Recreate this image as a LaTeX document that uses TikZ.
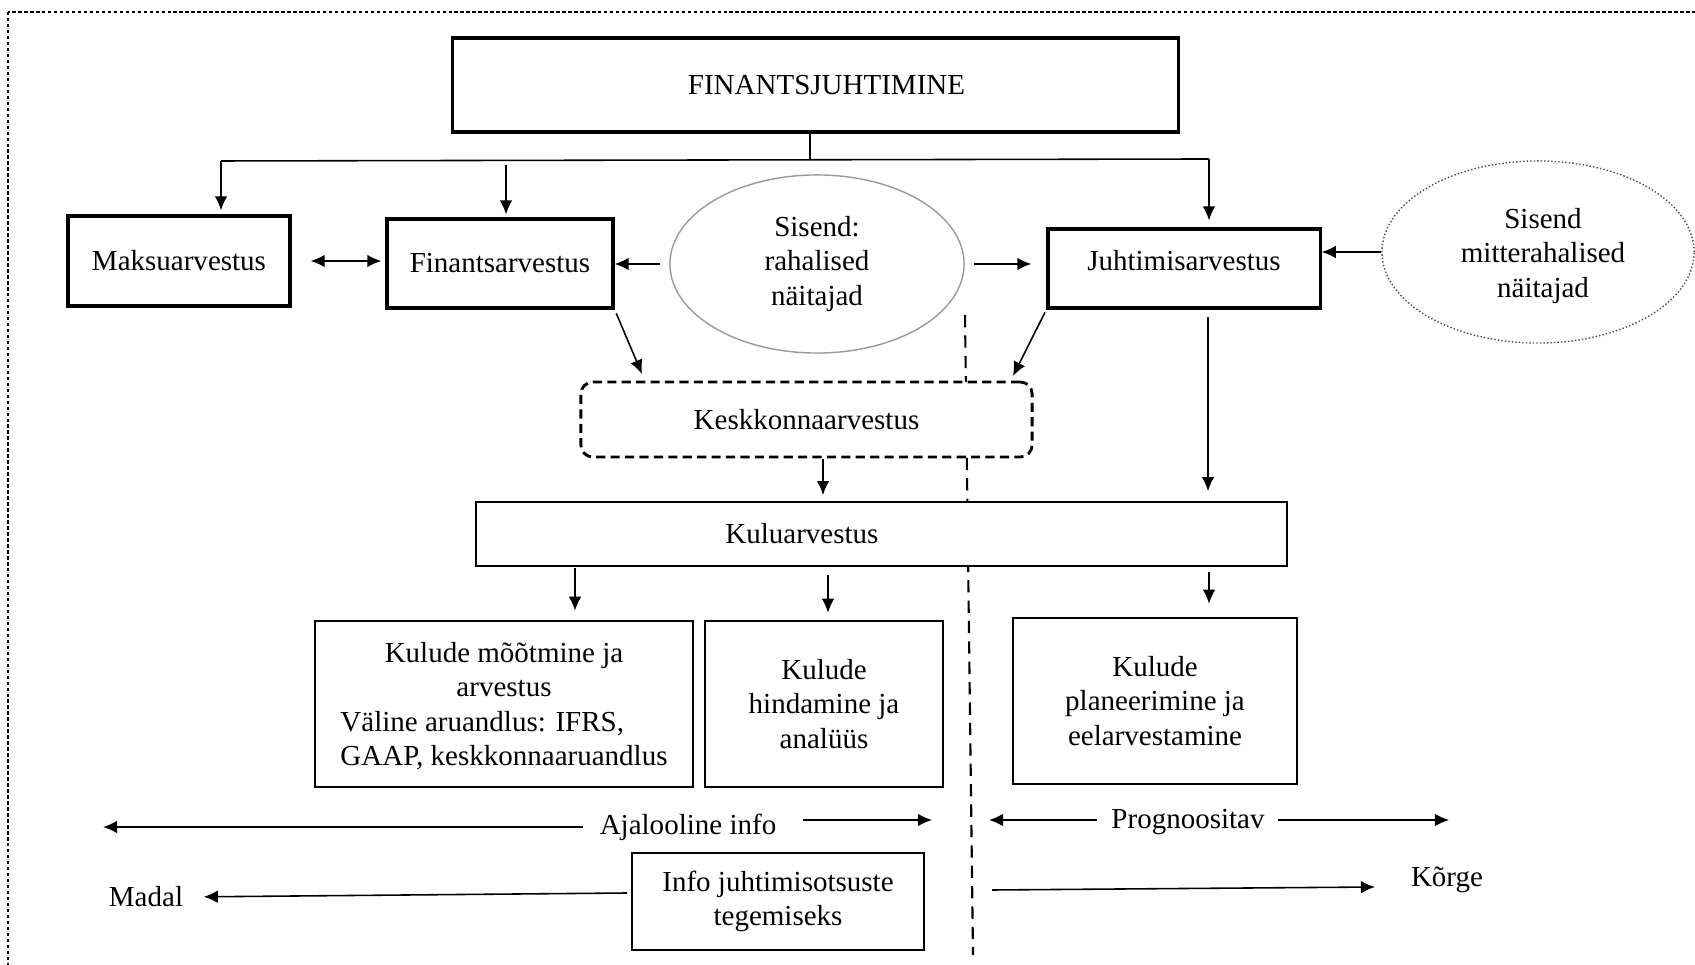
\documentclass[tikz,border=0pt]{standalone}
\usepackage{fontspec}
\setmainfont{Liberation Serif}
\usetikzlibrary{arrows.meta,shapes.geometric}

\begin{document}
\begin{tikzpicture}[x=0.01cm,y=-0.01cm,
                        font=\fontsize{8.25}{9.7}\selectfont,
                        >={Latex[length=4pt,width=3.6pt]},
                        box/.style={draw,line width=0.5pt,fill=white,inner sep=0,align=center},
                        thickbox/.style={box,line width=0.9pt},
                        input/.style={ellipse,draw=black!40,line width=0.4pt,fill=white,inner sep=0,align=center},
                        arr/.style={->,line width=0.45pt},
                        divider/.style={line width=0.6pt,dash pattern=on 3.5pt off 2.3pt},
                        caption/.style={inner sep=0}
                        ]
                        \useasboundingbox (0,0) rectangle (1695,965);
                        \clip (0,0) rectangle (1695,965);
                        % frame
                        \draw[line width=0.4pt,dash pattern=on 1pt off 0.7pt] (8,12) rectangle (1720,1000);
                        % historic / forecast divider
                        \coordinate (d0) at (965,315);
                        \coordinate (d1) at (973,955);
                        \draw[divider] (d0) -- (d1);

                        \node[thickbox,minimum width=7.25cm,minimum height=0.94cm,
                              label={[caption,xshift=0.11cm]center:FINANTSJUHTIMINE}] (fin) at (815.5,85) {};
                        \node[thickbox,minimum width=2.22cm,minimum height=0.90cm] (maks) at (179,261) {Maksuarvestus};
                        \node[thickbox,minimum width=2.26cm,minimum height=0.89cm] (finarv) at (500,263.5) {Finantsarvestus};
                        \node[input,minimum width=2.94cm,minimum height=1.78cm] (rahal) at (817,264) {Sisend:\\rahalised\\näitajad};
                        \node[thickbox,minimum width=2.72cm,minimum height=0.79cm,text depth=0.17cm] (juht) at (1184,268.5) {Juhtimisarvestus};
                        \node[input,draw=black!70,dash pattern=on 0.4pt off 0.6pt,minimum width=3.12cm,minimum height=1.82cm,
                              label={[caption,align=center,xshift=0.05cm,yshift=-0.04cm]center:Sisend\\mitterahalised\\näitajad}] (mitte) at (1538,252) {};
                        \node[box,line width=0.8pt,dash pattern=on 2.6pt off 1.5pt,rounded corners=0.12cm,minimum width=4.51cm,minimum height=0.75cm] (kesk) at (806.5,419.5) {Keskkonnaarvestus};
                        \node[box,minimum width=8.11cm,minimum height=0.64cm,
                              label={[caption,xshift=-0.795cm]center:Kuluarvestus}] (kulu) at (881.5,534) {};
                        \node[box,line width=0.7pt,minimum width=3.78cm,minimum height=1.66cm,
                              label={[caption,align=center,yshift=-0.05cm]center:Kulude mõõtmine ja\\arvestus\\\begin{tabular}[t]{@{}l@{}}Väline aruandlus: IFRS,\\GAAP, keskkonnaaruandlus\end{tabular}}] (kmoot) at (504,704) {};
                        \node[box,line width=0.7pt,minimum width=2.38cm,minimum height=1.66cm] (khind) at (824,704) {Kulude\\hindamine ja\\analüüs};
                        \node[box,line width=0.7pt,minimum width=2.84cm,minimum height=1.66cm] (kplan) at (1155,701) {Kulude\\planeerimine ja\\eelarvestamine};
                        \node[box,minimum width=2.92cm,minimum height=0.97cm] (info) at (778,901.5) {Info juhtimisotsuste\\tegemiseks};
                        \node[caption] (aja) at (688,827) {Ajalooline info};
                        \node[caption] (prog) at (1188,822) {Prognoositav};
                        \node[caption] (madal) at (146,897) {Madal};
                        \node[caption] (korge) at (1447,880) {Kõrge};

                        % tree below the top box
                        \coordinate (top) at (810,160);
                        \coordinate (tL) at (221,161);
                        \coordinate (tM) at (506,165);
                        \coordinate (tR) at (1209,159);
                        \draw[line width=0.45pt] (fin.south -| top) -- (top);
                        \draw[line width=0.45pt] (tL) -- (tR);
                        \draw[arr,shorten >=0.04cm] (tL) -- (tL |- maks.north);
                        \draw[arr,shorten >=0.03cm] (tM) -- (tM |- finarv.north);
                        \draw[arr,shorten >=0.07cm] (tR) -- (tR |- juht.north);

                        \draw[<->,line width=0.45pt,shorten <=0.19cm,shorten >=0.04cm] (maks.east) -- (maks.east -| finarv.west);
                        \draw[arr,shorten <=0.09cm] (rahal.west) -- (rahal.west -| finarv.east);
                        \draw[arr,shorten <=0.09cm,shorten >=0.15cm] (rahal.east) -- (rahal.east -| juht.west);
                        \draw[arr] (mitte.west) -- (mitte.west -| juht.east);

                        \coordinate (k1) at (642,374);
                        \coordinate (k2) at (1013,376);
                        \coordinate (j1) at (1208,317);
                        \coordinate (k3) at (823,459);
                        \draw[arr,shorten <=0.04cm] (finarv.south east) -- (k1);
                        \draw[arr,shorten <=0.03cm] (juht.south west) -- (k2);
                        \draw[arr,shorten >=0.1cm] (j1) -- (j1 |- kulu.north);
                        \draw[arr,shorten >=0.06cm] (k3) -- (k3 |- kulu.north);

                        \coordinate (c1) at (575,568);
                        \coordinate (c2) at (828,575);
                        \coordinate (c3) at (1209,572);
                        \draw[arr,shorten >=0.09cm] (c1) -- (c1 |- kmoot.north);
                        \draw[arr,shorten >=0.07cm] (c2) -- (c2 |- khind.north);
                        \draw[arr,shorten >=0.13cm] (c3) -- (c3 |- kplan.north);

                        % time and level scales
                        \coordinate (ajaL) at (103,827);
                        \coordinate (ajaR) at (932,820);
                        \coordinate (progL) at (989,820);
                        \coordinate (progR) at (1449,820);
                        \coordinate (m0) at (627,893);
                        \coordinate (h0) at (992,890);
                        \coordinate (h1) at (1375,887);
                        \draw[arr,shorten <=0.16cm] (aja.west |- ajaL) -- (ajaL);
                        \draw[arr,shorten <=0.26cm] (aja.east |- ajaR) -- (ajaR);
                        \draw[arr,shorten <=0.14cm] (prog.west |- progL) -- (progL);
                        \draw[arr,shorten <=0.13cm] (prog.east |- progR) -- (progR);
                        \draw[arr,shorten >=0.2cm] (m0) -- (madal.east);
                        \draw[arr] (h0) -- (h1);
                    \end{tikzpicture}
\end{document}
